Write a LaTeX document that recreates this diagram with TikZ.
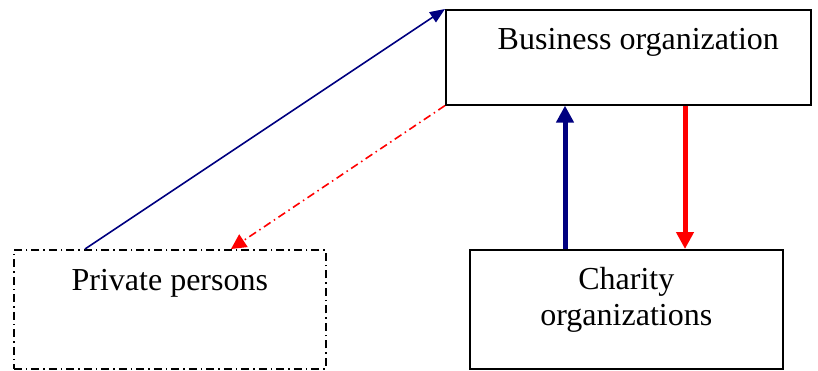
\documentclass[tikz,border=0pt]{standalone}
\usepackage{fontspec}
\setmainfont{Liberation Serif}
\usetikzlibrary{arrows.meta}
\definecolor{navyblue}{RGB}{0,0,128}
\tikzset{
  box/.style = {draw = black, line width = 1.6pt, inner xsep = 0pt, inner ysep = 0pt, align = center, font = \fontsize{32}{36}\selectfont},
  dashdot/.style = {dash pattern = on 8pt off 4pt on 1.5pt off 4pt}
}
\begin{document}
\begin{tikzpicture}[x = 1pt, y = -1pt]
\useasboundingbox (0,0) rectangle (818,371);
% boxes
\node[box, minimum width = 365pt, text height = 40pt, text depth = 55pt, anchor = north west] (biz) at (445,9) {\hspace*{20pt}Business organization};
\node[box, dashdot, minimum width = 312pt, text height = 41pt, text depth = 78pt, anchor = north west] (priv) at (13,249) {Private persons};
\node[box, minimum width = 313pt, text height = 76pt, text depth = 43pt, anchor = north west] (char) at (469,249) {Charity\\organizations};
% connectors
\coordinate (givefrom) at ([xshift = 72pt]priv.north west);
\coordinate (giveto) at ([xshift = 218pt]priv.north west);
\coordinate (up) at ([xshift = 96pt]char.north west);
\coordinate (down) at ([xshift = 216pt]char.north west);
\draw[navyblue, line width = 1.6pt, -{Triangle[length = 15pt, width = 12pt]}] (givefrom) -- (biz.north west);
\draw[red, line width = 1.6pt, dashdot, -{Triangle[length = 15pt, width = 15pt]}] (biz.south west) -- (giveto);
\draw[navyblue, line width = 5pt, -{Triangle[length = 17pt, width = 17pt]}] (up) -- (up |- biz.south);
\draw[red, line width = 5pt, -{Triangle[length = 17pt, width = 17pt]}] (down |- biz.south) -- (down);
\end{tikzpicture}
\end{document}
